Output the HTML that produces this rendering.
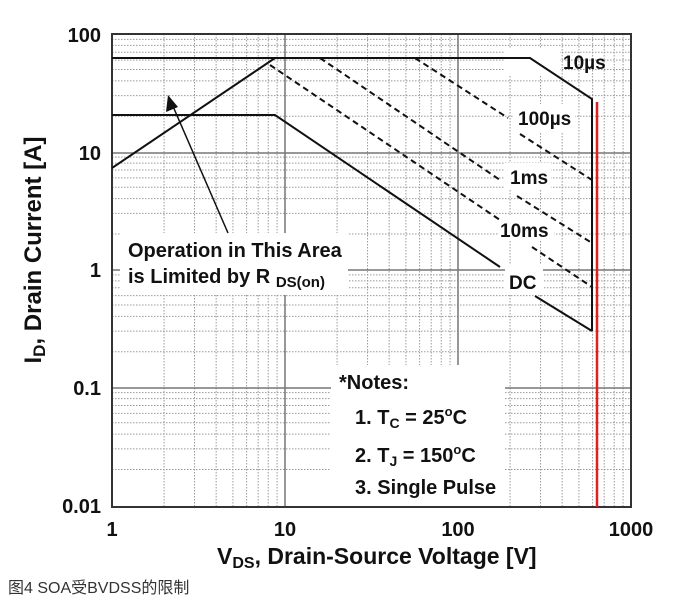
<!DOCTYPE html>
<html><head><meta charset="utf-8"><style>
html,body{margin:0;padding:0;background:#fff;width:682px;height:604px;overflow:hidden}
svg{display:block}
text{font-family:"Liberation Sans",Arial,sans-serif;font-weight:bold;fill:#111}
</style></head><body>
<svg width="682" height="604" viewBox="0 0 682 604" xmlns="http://www.w3.org/2000/svg">
<g id="minor" stroke="#999" stroke-width="1" stroke-dasharray="1.5,1.5">
</g>
<g stroke="#777" stroke-width="1.5">
<line x1="285" y1="34" x2="285" y2="507"/><line x1="458" y1="34" x2="458" y2="507"/>
<line x1="112" y1="153" x2="631" y2="153"/><line x1="112" y1="270" x2="631" y2="270"/><line x1="112" y1="388" x2="631" y2="388"/>
</g>
<rect x="120" y="233" width="228" height="62" fill="#fff"/>
<rect x="331" y="365" width="174" height="141" fill="#fff"/>
<rect x="505" y="48" width="55" height="28" fill="#fff"/>
<rect x="513" y="104" width="62" height="28" fill="#fff"/>
<rect x="505" y="163" width="46" height="26" fill="#fff"/>
<rect x="498" y="215" width="56" height="26" fill="#fff"/>
<rect x="505" y="264" width="38" height="30" fill="#fff"/>
<rect x="112" y="34" width="519" height="473" fill="none" stroke="#333" stroke-width="2"/>
<g fill="none" stroke="#111" stroke-width="2">
<polyline points="112,58 530,58 592,99 592,331"/>
<line x1="112" y1="168" x2="275" y2="58"/>
<polyline points="112,115 275,115 500,267"/>
<line x1="535" y1="296" x2="592" y2="331"/>
</g>
<g fill="none" stroke="#111" stroke-width="2" stroke-dasharray="6,4">
<polyline points="415,58 508,118"/><line x1="520" y1="134" x2="592" y2="180"/>
<polyline points="320,58 500,180"/><line x1="517" y1="196" x2="592" y2="243"/>
<polyline points="270,65 500,220"/><line x1="532" y1="247" x2="592" y2="287"/>
</g>
<line x1="597" y1="102" x2="597" y2="507" stroke="#e02020" stroke-width="2.5"/>
<line x1="228" y1="233" x2="172" y2="104" stroke="#111" stroke-width="1.5"/>
<polygon points="168,95 166,112 178,107" fill="#111"/>
<g font-size="19">
<text x="563" y="69">10µs</text>
<text x="518" y="125">100µs</text>
<text x="510" y="184">1ms</text>
<text x="500" y="237">10ms</text>
<text x="509" y="289">DC</text>
</g>
<g font-size="20">
<text x="128" y="257">Operation in This Area</text>
<text x="128" y="283">is Limited by R <tspan font-size="15" dy="4">DS(on)</tspan></text>
<text x="339" y="389">*Notes:</text>
<text x="355" y="424">1. T<tspan font-size="14" dy="4">C</tspan><tspan dy="-4"> = 25</tspan><tspan font-size="13" dy="-8">o</tspan><tspan dy="8">C</tspan></text>
<text x="355" y="462">2. T<tspan font-size="14" dy="4">J</tspan><tspan dy="-4"> = 150</tspan><tspan font-size="13" dy="-8">o</tspan><tspan dy="8">C</tspan></text>
<text x="355" y="494">3. Single Pulse</text>
</g>
<g font-size="20" text-anchor="end">
<text x="101" y="42">100</text><text x="101" y="160">10</text><text x="101" y="277">1</text>
<text x="101" y="395">0.1</text><text x="101" y="513">0.01</text>
</g>
<g font-size="20" text-anchor="middle">
<text x="112" y="536">1</text><text x="285" y="536">10</text><text x="458" y="536">100</text><text x="631" y="536">1000</text>
</g>
<text x="217" y="564" font-size="23">V<tspan font-size="16" dy="4">DS</tspan><tspan dy="-4">, Drain-Source Voltage [V]</tspan></text>
<text transform="translate(41,250) rotate(-90)" text-anchor="middle" font-size="24">I<tspan font-size="17" dy="4">D</tspan><tspan dy="-4">, Drain Current [A]</tspan></text>
<text x="8" y="593" font-size="16" style="font-weight:normal;fill:#333;font-family:'Liberation Sans','Noto Sans CJK SC',sans-serif">图4 SOA受BVDSS的限制</text>
</svg>
<script>
var g=document.getElementById('minor'),ns='http://www.w3.org/2000/svg';
function L(a,b,c,d){var l=document.createElementNS(ns,'line');l.setAttribute('x1',a);l.setAttribute('y1',b);l.setAttribute('x2',c);l.setAttribute('y2',d);g.appendChild(l);}
for(var d=0;d<3;d++)for(var k=2;k<10;k++){var x=112+173*(d+Math.log10(k));L(x,34,x,507);}
for(var d=0;d<4;d++)for(var k=2;k<10;k++){var y=505-117.75*(d+Math.log10(k));L(112,y,631,y);}
</script>
</body></html>
